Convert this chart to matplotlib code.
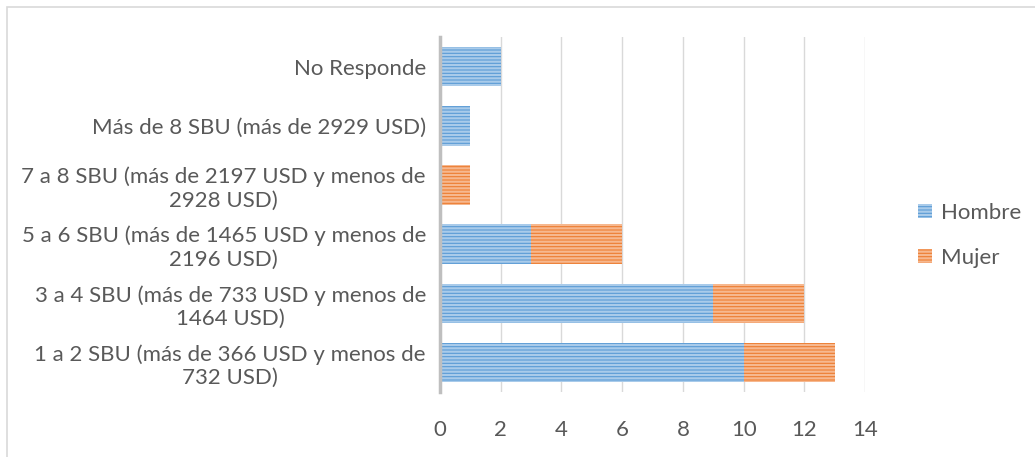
import matplotlib
matplotlib.use("Agg")
import matplotlib.pyplot as plt
from matplotlib.patches import Rectangle

categories = [
    "1 a 2 SBU (más de 366 USD y menos de\n732 USD)",
    "3 a 4 SBU (más de 733 USD y menos de\n1464 USD)",
    "5 a 6 SBU (más de 1465 USD y menos de\n2196 USD)",
    "7 a 8 SBU (más de 2197 USD y menos de\n2928 USD)",
    "Más de 8 SBU (más de 2929 USD)",
    "No Responde",
]
hombre = [10, 9, 3, 0, 1, 2]
mujer = [3, 3, 3, 1, 0, 0]
xticks = [0, 2, 4, 6, 8, 10, 12, 14]

plt.rcParams['font.family'] = ['Lato', 'DejaVu Sans']
plt.rcParams['hatch.linewidth'] = 1.6

fig = plt.figure(figsize=(10.35, 4.57), dpi=100)
ax = fig.add_axes([0.425, 0.142, 0.411, 0.777])

y = list(range(len(categories)))
b1 = ax.barh(y, hombre, height=0.67, color='#5B9BD5', edgecolor='#A9CBEA',
             linewidth=0, hatch='-----', label='Hombre', zorder=3)
b2 = ax.barh(y, mujer, left=hombre, height=0.67, color='#ED7D31', edgecolor='#F6B88F',
             linewidth=0, hatch='-----', label='Mujer', zorder=3)

ax.set_xlim(0, 14)
ax.set_ylim(-0.5, len(categories) - 0.5)
ax.set_xticks(xticks)
ax.set_yticks(y)
ax.set_yticklabels(categories)
for t in ax.get_yticklabels():
    t.set_multialignment('center')
    t.set_linespacing(1.2)
ax.tick_params(axis='both', length=0, labelsize=16, colors='#595959', pad=12)
ax.tick_params(axis='y', pad=10)
ax.tick_params(axis='x', pad=20)
ax.xaxis.grid(True, color='#D9D9D9', linewidth=1, zorder=0)
ax.set_axisbelow(True)
for s in ['top', 'right', 'bottom']:
    ax.spines[s].set_visible(False)
ax.spines['left'].set_color('#BFBFBF')
ax.spines['left'].set_linewidth(2.5)
ax.spines['left'].set_zorder(4)

leg = fig.legend(handles=[b1, b2], labels=['Hombre', 'Mujer'], loc='center left',
                 bbox_to_anchor=(0.868, 0.485), frameon=False, fontsize=16,
                 labelcolor='#595959', handlelength=0.6, handleheight=0.6,
                 handletextpad=0.4, labelspacing=1.1)

fig.patches.append(Rectangle((0.007, -0.01), 1.0, 0.995, transform=fig.transFigure,
                             fill=False, edgecolor='#D9D9D9', linewidth=1.2))

fig.savefig('out.png', dpi=100)
